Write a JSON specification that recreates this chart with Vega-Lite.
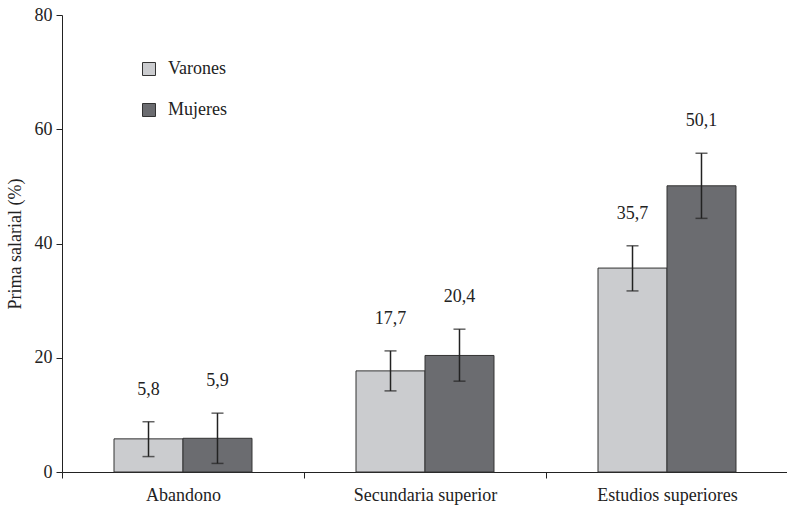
{
  "$schema": "https://vega.github.io/schema/vega-lite/v6.json",
  "autosize": "none",
  "width": 726,
  "height": 457,
  "padding": {"left": 62, "top": 15, "right": 0, "bottom": 36},
  "background": "white",
  "config": {
    "font": "Liberation Serif",
    "axis": {"labelFont": "Liberation Serif", "titleFont": "Liberation Serif"},
    "legend": {"labelFont": "Liberation Serif"},
    "text": {"font": "Liberation Serif"},
    "view": {"stroke": null},
    "locale": {"number": {"decimal": ",", "thousands": ".", "grouping": [3], "currency": ["", " €"]}}
  },
  "data": {
    "values": [
      {"nivel": "Abandono", "sexo": "Varones", "prima": 5.8, "lo": 2.7, "hi": 8.8},
      {"nivel": "Abandono", "sexo": "Mujeres", "prima": 5.9, "lo": 1.5, "hi": 10.3},
      {"nivel": "Secundaria superior", "sexo": "Varones", "prima": 17.7, "lo": 14.2, "hi": 21.2},
      {"nivel": "Secundaria superior", "sexo": "Mujeres", "prima": 20.4, "lo": 15.9, "hi": 25.0},
      {"nivel": "Estudios superiores", "sexo": "Varones", "prima": 35.7, "lo": 31.7, "hi": 39.6},
      {"nivel": "Estudios superiores", "sexo": "Mujeres", "prima": 50.1, "lo": 44.4, "hi": 55.8}
    ]
  },
  "encoding": {
    "x": {
      "field": "nivel", "type": "nominal",
      "sort": ["Abandono", "Secundaria superior", "Estudios superiores"],
      "scale": {"paddingInner": 0, "paddingOuter": 0},
      "axis": {
        "title": null, "labelAngle": 0, "labelFontSize": 18, "labelColor": "#222",
        "labelFont": "Liberation Serif",
        "tickBand": "extent", "tickSize": 6, "tickColor": "#222", "domainColor": "#222",
        "labelPadding": 8
      }
    },
    "xOffset": {
      "field": "sexo", "type": "nominal", "sort": ["Varones", "Mujeres"],
      "scale": {"paddingInner": 0, "paddingOuter": 0.754}
    }
  },
  "layer": [
    {
      "mark": {"type": "bar", "stroke": "#333", "strokeWidth": 1},
      "encoding": {
        "y": {
          "field": "prima", "type": "quantitative",
          "scale": {"domain": [0, 80]},
          "axis": {
            "title": "Prima salarial (%)", "titleFontSize": 18, "titleFontWeight": "normal",
            "titleFont": "Liberation Serif", "labelFont": "Liberation Serif",
            "titleColor": "#222", "titlePadding": 10,
            "values": [0, 20, 40, 60, 80], "grid": false,
            "labelFontSize": 18, "labelColor": "#222", "tickSize": 6, "tickColor": "#222",
            "domainColor": "#222", "labelPadding": 4
          }
        },
        "color": {
          "field": "sexo", "type": "nominal", "sort": ["Varones", "Mujeres"],
          "scale": {"domain": ["Varones", "Mujeres"], "range": ["#cbcccf", "#6b6c70"]},
          "legend": {
            "title": null, "orient": "none", "legendX": 78, "legendY": 45,
            "symbolType": "square", "symbolSize": 169, "symbolStrokeColor": "#333",
            "symbolStrokeWidth": 1, "symbolOpacity": 1,
            "labelFont": "Liberation Serif",
            "labelFontSize": 18, "labelColor": "#222", "labelOffset": 10,
            "rowPadding": 23, "padding": 0
          }
        }
      }
    },
    {
      "mark": {"type": "rule", "color": "#222", "strokeWidth": 1.5},
      "encoding": {
        "y": {"field": "lo", "type": "quantitative"},
        "y2": {"field": "hi"}
      }
    },
    {
      "mark": {"type": "tick", "color": "#222", "thickness": 1.5, "size": 12},
      "encoding": {"y": {"field": "lo", "type": "quantitative"}}
    },
    {
      "mark": {"type": "tick", "color": "#222", "thickness": 1.5, "size": 12},
      "encoding": {"y": {"field": "hi", "type": "quantitative"}}
    },
    {
      "mark": {"type": "text", "font": "Liberation Serif", "fontSize": 18, "color": "#222", "baseline": "middle", "dy": -32},
      "encoding": {
        "y": {"field": "hi", "type": "quantitative"},
        "text": {"field": "prima", "type": "quantitative", "format": ".1f"}
      }
    }
  ]
}
